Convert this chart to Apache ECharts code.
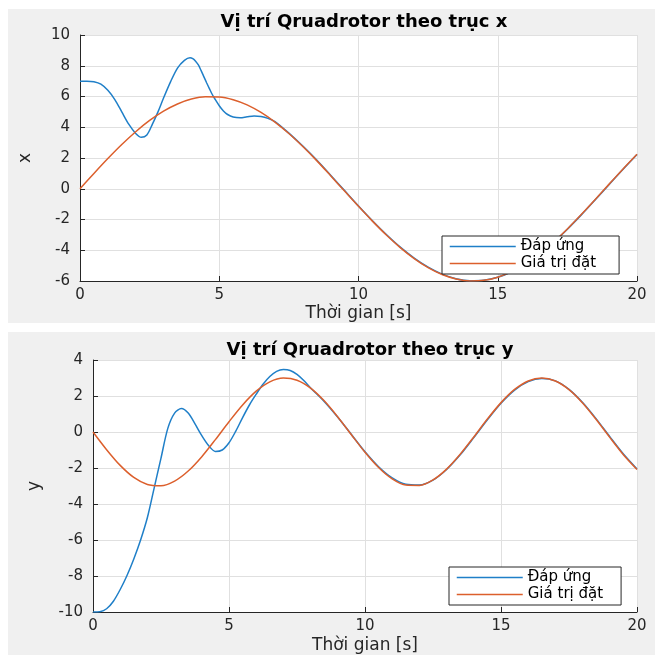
<!DOCTYPE html>
<html>
<head>
<meta charset="utf-8">
<script src="https://cdn.jsdelivr.net/npm/echarts@6/dist/echarts.min.js"></script>
<style>
html,body{margin:0;padding:0;background:#ffffff;}
#chart{width:662px;height:655px;}
</style>
</head>
<body>
<div id="chart"></div>
<script>
// ---- Data ----
const titles = ['Vị trí Qruadrotor theo trục x', 'Vị trí Qruadrotor theo trục y'];
const xAxisName = 'Thời gian [s]';
const yAxisNames = ['x', 'y'];
const legendNames = ['Đáp ứng', 'Giá trị đặt'];
const xTicks = [0, 5, 10, 15, 20];
const yTicksTop = [-6, -4, -2, 0, 2, 4, 6, 8, 10];
const yTicksBottom = [-10, -8, -6, -4, -2, 0, 2, 4];

// set-point time base (s)
const tSet = [0,0.5,1,1.5,2,2.5,3,3.5,4,4.5,5,5.5,6,6.5,7,7.5,8,8.5,9,9.5,10,10.5,11,11.5,12,12.5,13,13.5,14,14.5,15,15.5,16,16.5,17,17.5,18,18.5,19,19.5,20];
// set-point x
const xSet = [0,0.995,1.963,2.877,3.711,4.441,5.049,5.516,5.832,5.985,5.972,5.794,5.456,4.961,4.339,3.591,2.745,1.830,0.847,-0.151,-1.144,-2.105,-3.008,-3.827,-4.541,-5.129,-5.576,-5.865,-5.993,-5.956,-5.753,-5.394,-4.880,-4.233,-3.469,-2.612,-1.676,-0.697,0.301,1.291,2.245];
// set-point y
const ySet = [0,-0.982,-1.855,-2.524,-2.916,-2.986,-2.728,-2.169,-1.372,-0.423,0.572,1.504,2.270,2.788,2.997,2.877,2.440,1.734,0.838,-0.150,-1.123,-1.971,-2.602,-2.948,-2.968,-2.662,-2.062,-1.236,-0.274,0.719,1.632,2.364,2.837,3.000,2.830,2.350,1.610,0.693,-0.300,-1.261,-2.082];

// response x
const tRespX = [0,0.25,0.5,0.75,1,1.25,1.5,1.75,2,2.2,2.4,2.6,2.8,3,3.25,3.5,3.75,3.95,4.05,4.15,4.25,4.35,4.45,4.55,4.65,4.75,4.85,5,5.15,5.3,5.5,5.75,6,6.25,6.5,6.75,7,7.5,8,8.5,9,9.5,10,10.5,11,11.5,12,12.5,13,13.5,14,14.5,15,15.5,16,16.5,17,17.5,18,18.5,19,19.5,20];
const xResp = [7.0,7.0,6.96,6.8,6.4,5.8,5.0,4.2,3.6,3.35,3.5,4.2,5.0,5.9,6.95,7.85,8.35,8.52,8.46,8.3,8.05,7.68,7.28,6.88,6.5,6.13,5.82,5.4,5.06,4.83,4.67,4.62,4.68,4.73,4.7,4.58,4.37,3.62,2.78,1.87,0.88,-0.12,-1.12,-2.08,-2.98,-3.80,-4.51,-5.10,-5.55,-5.85,-5.98,-5.95,-5.76,-5.40,-4.89,-4.25,-3.49,-2.63,-1.70,-0.72,0.28,1.27,2.23];

// response y
const tRespY = [0,0.25,0.5,0.75,1,1.25,1.5,1.75,2,2.25,2.5,2.75,3,3.25,3.5,3.75,4,4.25,4.5,4.75,5,5.25,5.5,5.75,6,6.25,6.5,6.75,7,7.25,7.5,7.75,8,8.5,9,9.5,10,10.5,11,11.5,12,12.5,13,13.5,14,14.5,15,15.5,16,16.5,17,17.5,18,18.5,19,19.5,20];
const yResp = [-10,-9.98,-9.82,-9.4,-8.75,-7.97,-7.05,-6.0,-4.75,-3.1,-1.45,0.2,1.05,1.3,1.05,0.45,-0.2,-0.75,-1.08,-1.0,-0.6,0.05,0.8,1.5,2.1,2.65,3.08,3.37,3.47,3.42,3.2,2.86,2.45,1.7,0.82,-0.14,-1.1,-1.93,-2.55,-2.9,-2.94,-2.67,-2.08,-1.27,-0.31,0.68,1.6,2.33,2.8,2.97,2.84,2.37,1.64,0.73,-0.26,-1.22,-2.05];

// ---- Build ----
const pair = (t, v) => t.map((x, i) => [x, v[i]]);
const BLUE = '#1f7fc8', ORANGE = '#dc5f2c';
const FONT = 'DejaVu Sans';
const TXT = '#262626';

function xAxisOpt(gridIndex, gap) {
  return {
    type: 'value', gridIndex, min: xTicks[0], max: xTicks[xTicks.length - 1], interval: 5,
    name: xAxisName, nameLocation: 'middle', nameGap: gap,
    nameTextStyle: { fontFamily: FONT, fontSize: 17, color: TXT },
    axisLine: { show: true, onZero: false, lineStyle: { color: TXT, width: 1 } },
    axisTick: { show: true, inside: true, length: 5, lineStyle: { color: TXT } },
    axisLabel: { fontFamily: FONT, fontSize: 15, color: TXT, margin: 7 },
    splitLine: { show: true, lineStyle: { color: '#e0e0e0', width: 1 } }
  };
}
function yAxisOpt(gridIndex, ticks, name, gap) {
  return {
    type: 'value', gridIndex, min: ticks[0], max: ticks[ticks.length - 1], interval: 2,
    name, nameLocation: 'middle', nameGap: gap, nameRotate: 90,
    nameTextStyle: { fontFamily: FONT, fontSize: 17, color: TXT },
    axisLine: { show: true, onZero: false, lineStyle: { color: TXT, width: 1 } },
    axisTick: { show: true, inside: true, length: 5, lineStyle: { color: TXT } },
    axisLabel: { fontFamily: FONT, fontSize: 15, color: TXT, margin: 10 },
    splitLine: { show: true, lineStyle: { color: '#e0e0e0', width: 1 } }
  };
}
function lineSeries(name, data, idx, color) {
  return {
    name, type: 'line', xAxisIndex: idx, yAxisIndex: idx, data,
    symbol: 'none', smooth: 0.3, lineStyle: { color, width: 1.5 }, itemStyle: { color },
    animation: false, z: 3
  };
}
function legendOpt(left, top, rightPad) {
  return {
    orient: 'vertical', left, top, data: legendNames,
    itemWidth: 66, itemHeight: 14, itemGap: 2,
    itemStyle: { opacity: 0 },
    lineStyle: { width: 1.5 },
    padding: [3, rightPad, 3, 7],
    backgroundColor: '#ffffff', borderColor: TXT, borderWidth: 1, borderRadius: 0,
    textStyle: { fontFamily: FONT, fontSize: 15, color: '#000' },
    selectedMode: false
  };
}

const chart = echarts.init(document.getElementById('chart'), null, { renderer: 'canvas' });
chart.setOption({
  backgroundColor: '#ffffff',
  animation: false,
  graphic: [
    { type: 'rect', shape: { x: 8, y: 9, width: 647, height: 314 }, style: { fill: '#f0f0f0' }, z: -10, silent: true },
    { type: 'rect', shape: { x: 8, y: 332, width: 647, height: 323 }, style: { fill: '#f0f0f0' }, z: -10, silent: true }
  ],
  title: [
    { text: titles[0], left: 359, top: 8, textAlign: 'center', textStyle: { fontFamily: FONT, fontSize: 18, fontWeight: 'bold', color: '#000' } },
    { text: titles[1], left: 365, top: 336, textAlign: 'center', textStyle: { fontFamily: FONT, fontSize: 18, fontWeight: 'bold', color: '#000' } }
  ],
  grid: [
    { left: 80, right: 25, top: 35, height: 246, show: true, backgroundColor: '#ffffff', borderWidth: 0, containLabel: false },
    { left: 93, right: 25, top: 360, height: 253, show: true, backgroundColor: '#ffffff', borderWidth: 0, containLabel: false }
  ],
  xAxis: [xAxisOpt(0, 24), xAxisOpt(1, 25)],
  yAxis: [yAxisOpt(0, yTicksTop, yAxisNames[0], 46), yAxisOpt(1, yTicksBottom, yAxisNames[1], 50)],
  legend: [
    Object.assign(legendOpt(442, 236, 23), { id: 'lg0' }),
    Object.assign(legendOpt(449, 567, 18), { id: 'lg1' })
  ],
  series: [
    lineSeries(legendNames[0], pair(tRespX, xResp), 0, BLUE),
    lineSeries(legendNames[1], pair(tSet, xSet), 0, ORANGE),
    lineSeries(legendNames[0], pair(tRespY, yResp), 1, BLUE),
    lineSeries(legendNames[1], pair(tSet, ySet), 1, ORANGE)
  ]
});
</script>
</body>
</html>
